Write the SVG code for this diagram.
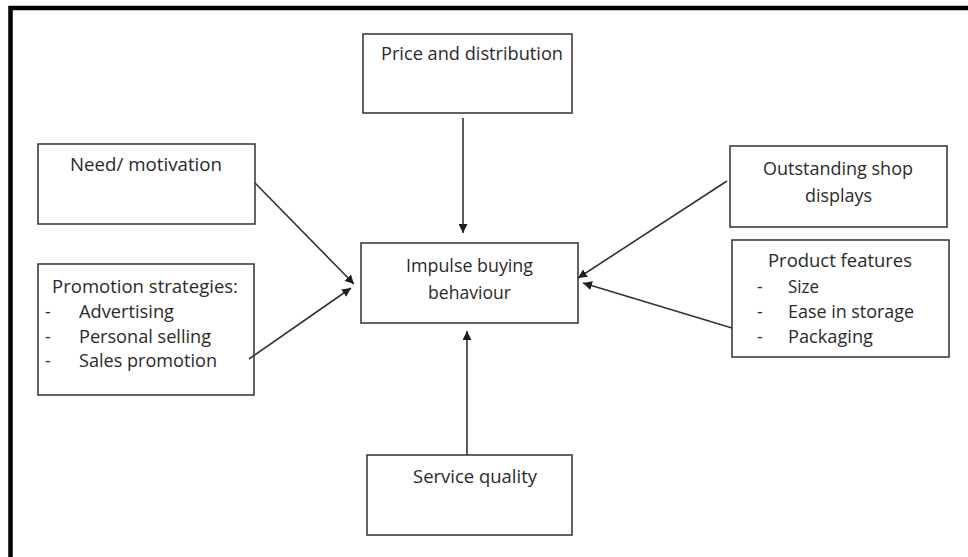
<svg xmlns="http://www.w3.org/2000/svg" width="968" height="557" viewBox="0 0 968 557">
  <style>
    .box { fill: #ffffff; stroke: #3c3c3c; stroke-width: 1.6; }
    .lbl { font-family: "Open Sans", "Liberation Sans", sans-serif; font-size: 17.5px; fill: #2a2a2a; }
    .edge { stroke: #333333; stroke-width: 1.6; fill: none; marker-end: url(#arrow); }
  </style>
  <defs>
    <marker id="arrow" viewBox="0 0 10 10" refX="10" refY="5" markerWidth="9" markerHeight="9" markerUnits="userSpaceOnUse" orient="auto">
      <path d="M0,0 L10,5 L0,10 z" fill="#1e1e1e"/>
    </marker>
  </defs>

  <rect width="968" height="557" fill="#ffffff"/>
  <!-- frame: top and left edges only -->
  <path d="M10.5,557 V8 H968" fill="none" stroke="#000000" stroke-width="4.5"/>

  <g id="price-distribution">
    <rect class="box" x="363" y="34" width="209" height="79"/>
    <text class="lbl" x="381" y="60" textLength="182" lengthAdjust="spacingAndGlyphs">Price and distribution</text>
  </g>

  <g id="need-motivation">
    <rect class="box" x="38" y="144" width="217" height="80"/>
    <text class="lbl" x="70" y="171" textLength="152" lengthAdjust="spacingAndGlyphs">Need/ motivation</text>
  </g>

  <g id="promotion-strategies">
    <rect class="box" x="38" y="264" width="216" height="131"/>
    <text class="lbl" x="52" y="293" textLength="186" lengthAdjust="spacingAndGlyphs">Promotion strategies:</text>
    <text class="lbl" x="45" y="318">-</text>
    <text class="lbl" x="79" y="318" textLength="95" lengthAdjust="spacingAndGlyphs">Advertising</text>
    <text class="lbl" x="45" y="343">-</text>
    <text class="lbl" x="79" y="343" textLength="132" lengthAdjust="spacingAndGlyphs">Personal selling</text>
    <text class="lbl" x="45" y="367">-</text>
    <text class="lbl" x="79" y="367" textLength="138" lengthAdjust="spacingAndGlyphs">Sales promotion</text>
  </g>

  <g id="impulse-buying">
    <rect class="box" x="361" y="243" width="217" height="80"/>
    <text class="lbl" x="406" y="272" textLength="127" lengthAdjust="spacingAndGlyphs">Impulse buying</text>
    <text class="lbl" x="428" y="299" textLength="83" lengthAdjust="spacingAndGlyphs">behaviour</text>
  </g>

  <g id="shop-displays">
    <rect class="box" x="730" y="146" width="217" height="81"/>
    <text class="lbl" x="763" y="175" textLength="150" lengthAdjust="spacingAndGlyphs">Outstanding shop</text>
    <text class="lbl" x="805" y="202" textLength="67" lengthAdjust="spacingAndGlyphs">displays</text>
  </g>

  <g id="product-features">
    <rect class="box" x="732" y="240" width="217" height="117"/>
    <text class="lbl" x="768" y="267" textLength="144" lengthAdjust="spacingAndGlyphs">Product features</text>
    <text class="lbl" x="757" y="293">-</text>
    <text class="lbl" x="788" y="293" textLength="31" lengthAdjust="spacingAndGlyphs">Size</text>
    <text class="lbl" x="757" y="318" fill="#9a9a9a">-</text>
    <text class="lbl" x="788" y="318" textLength="126" lengthAdjust="spacingAndGlyphs">Ease in storage</text>
    <text class="lbl" x="757" y="343" fill="#9a9a9a">-</text>
    <text class="lbl" x="788" y="343" textLength="85" lengthAdjust="spacingAndGlyphs">Packaging</text>
  </g>

  <g id="service-quality">
    <rect class="box" x="367" y="455" width="205" height="80"/>
    <text class="lbl" x="413" y="483" textLength="124" lengthAdjust="spacingAndGlyphs">Service quality</text>
  </g>

  <g id="connectors">
    <line class="edge" x1="463" y1="118" x2="463" y2="233"/>
    <line class="edge" x1="467" y1="455" x2="467" y2="331"/>
    <line class="edge" x1="255" y1="183" x2="354" y2="284"/>
    <line class="edge" x1="249" y1="359" x2="351" y2="288"/>
    <line class="edge" x1="727" y1="181" x2="578" y2="278"/>
    <line class="edge" x1="732" y1="328" x2="583" y2="283"/>
  </g>
</svg>
